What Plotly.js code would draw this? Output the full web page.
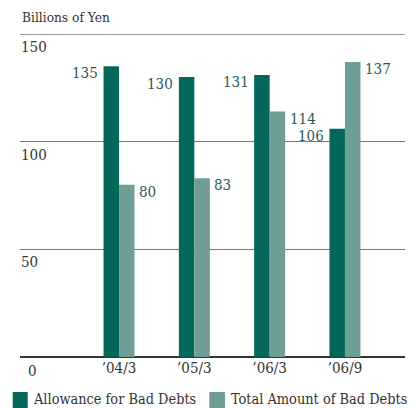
<!DOCTYPE html>
<html>
<head>
<meta charset="utf-8">
<script src="https://cdn.plot.ly/plotly-3.0.1.min.js"></script>
<style>html,body{margin:0;padding:0;background:#fff;}#chart{width:417px;height:408px;}</style>
</head>
<body>
<div id="chart"></div>
<script>
const categories = ["’04/3", "’05/3", "’06/3", "’06/9"];
const allowance = [135, 130, 131, 106];
const totalBad = [80, 83, 114, 137];
const seriesNames = ["Allowance for Bad Debts", "Total Amount of Bad Debts"];
const yTicks = [0, 50, 100, 150];
const unitLabel = "Billions of Yen";

const W = 417, H = 408;
const M = {l: 20, r: 12, t: 34, b: 51};
const PW = W - M.l - M.r, PH = H - M.t - M.b;
const px2x = p => (p - M.l) / PW;
const px2y = p => (H - M.b - p) / PH;

const dark = "#03685a", light = "#6f9e97";
const labelColor = "#1f5c50", textColor = "#333333";
const FONT = "DejaVu Serif Condensed";
const xs = categories.map((_, i) => i);

const traces = [
  {type: "bar", x: xs, y: allowance, name: seriesNames[0], marker: {color: dark}, hoverinfo: "none"},
  {type: "bar", x: xs, y: totalBad, name: seriesNames[1], marker: {color: light}, hoverinfo: "none"}
];

const annotations = [];
allowance.forEach((v, i) => annotations.push({x: i, y: v, xref: "x", yref: "y", text: String(v), showarrow: false,
  xanchor: "right", yanchor: "middle", xshift: -19, yshift: -7, font: {family: FONT, size: 15, color: labelColor}}));
totalBad.forEach((v, i) => annotations.push({x: i, y: v, xref: "x", yref: "y", text: String(v), showarrow: false,
  xanchor: "left", yanchor: "middle", xshift: 18, yshift: -7, font: {family: FONT, size: 15, color: labelColor}}));
yTicks.forEach(v => {
  if (v === 0) {
    annotations.push({x: px2x(32), y: 0, xref: "paper", yref: "y", text: "0", showarrow: false,
      xanchor: "center", yanchor: "middle", yshift: -14, font: {family: FONT, size: 15, color: textColor}});
  } else {
    annotations.push({x: 0, y: v, xref: "paper", yref: "y", text: String(v), showarrow: false,
      xanchor: "left", yanchor: "middle", xshift: -1, yshift: -13, font: {family: FONT, size: 15, color: textColor}});
  }
});
annotations.push({x: 0, y: px2y(17), xref: "paper", yref: "paper", text: unitLabel, showarrow: false,
  xanchor: "left", yanchor: "middle", font: {family: FONT, size: 13.6, color: textColor}});

// custom legend
const legendItems = [
  {sx0: 12.7, sx1: 27.7, tx: 31, color: dark, name: seriesNames[0]},
  {sx0: 209.3, sx1: 225, tx: 229, color: light, name: seriesNames[1]}
];
const shapes = [
  {type: "line", xref: "paper", yref: "y", x0: 0, x1: 1, y0: 150, y1: 150, line: {color: "#777777", width: 1.5}, layer: "below"}
];
legendItems.forEach(it => {
  shapes.push({type: "rect", xref: "paper", yref: "paper", x0: px2x(it.sx0), x1: px2x(it.sx1),
    y0: px2y(392), y1: px2y(408), fillcolor: it.color, line: {width: 0}});
  annotations.push({x: px2x(it.tx), y: px2y(399), xref: "paper", yref: "paper", text: it.name, showarrow: false,
    xanchor: "left", yanchor: "middle", font: {family: FONT, size: 14.4, color: textColor}});
});

const layout = {
  width: W, height: H, margin: M, showlegend: false,
  paper_bgcolor: "#fff", plot_bgcolor: "#fff",
  barmode: "group", bargap: 0.588, bargroupgap: 0,
  font: {family: FONT, size: 15, color: textColor},
  xaxis: {range: [-1.315, 3.797], tickmode: "array", tickvals: xs, ticktext: categories,
    showgrid: false, zeroline: false, showline: false, ticks: "", tickfont: {family: FONT, size: 15, color: textColor}, fixedrange: true},
  yaxis: {range: [0, 150], tickmode: "array", tickvals: [50, 100], showticklabels: false,
    showgrid: true, gridcolor: "#777777", gridwidth: 1.5, zeroline: true, zerolinecolor: "#333333", zerolinewidth: 1.5,
    showline: false, ticks: "", fixedrange: true},
  annotations: annotations, shapes: shapes
};

Plotly.newPlot("chart", traces, layout, {displayModeBar: false, staticPlot: true});
</script>
</body>
</html>
